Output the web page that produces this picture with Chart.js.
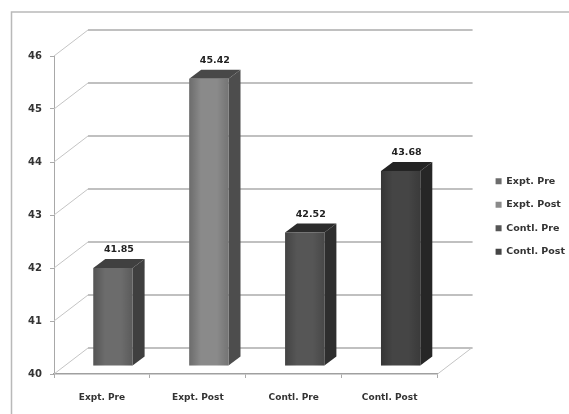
<!DOCTYPE html>
<html>
<head>
<meta charset="utf-8">
<title>Expt. and Contl. scores</title>
<script src="https://cdn.jsdelivr.net/npm/chart.js@4/dist/chart.umd.min.js"></script>
<style>
  html, body { margin: 0; padding: 0; background: #fff; }
  #wrap { width: 569px; height: 414px; }
</style>
</head>
<body>
<div id="wrap"><canvas id="scoresChart"></canvas></div>
<script>
const categories = ['Expt. Pre', 'Expt. Post', 'Contl. Pre', 'Contl. Post'];
const scores = [41.85, 45.42, 42.52, 43.68];
const frontColors = ['#6c6c6c', '#8a8a8a', '#565656', '#454545'];
const sideColors = ['#3f3f3f', '#4d4d4d', '#2e2e2e', '#262626'];
const topColors = ['#404040', '#484848', '#2c2c2c', '#242424'];

const FONT = '"DejaVu Sans", sans-serif';
const GRID = '#ababab';
// depth of the box the chart stands in, and of each bar
const WALL_DX = 34, WALL_DY = 26;
const BAR_DX = 12, BAR_DY = 9;
const BAR_SHIFT_X = 11, BAR_SHIFT_Y = 8;

function line(ctx, pts, color, width) {
    ctx.beginPath();
    ctx.moveTo(pts[0][0], pts[0][1]);
    pts.slice(1).forEach(p => ctx.lineTo(p[0], p[1]));
    ctx.strokeStyle = color;
    ctx.lineWidth = width;
    ctx.stroke();
}

function fillPoly(ctx, pts, color) {
    ctx.beginPath();
    ctx.moveTo(pts[0][0], pts[0][1]);
    pts.slice(1).forEach(p => ctx.lineTo(p[0], p[1]));
    ctx.closePath();
    ctx.fillStyle = color;
    ctx.fill();
}

const box3d = {
    id: 'box3d',
    beforeDraw(chart) {
        // outer frame, only its top and left sides show
        const ctx = chart.ctx;
        ctx.save();
        line(ctx, [[11.5, chart.height], [11.5, 12], [chart.width, 12]], '#b9b9b9', 1.5);
        ctx.restore();
    },
    beforeDatasetsDraw(chart) {
        const ctx = chart.ctx;
        const { left, right, bottom } = chart.chartArea;
        const yScale = chart.scales.y;
        ctx.save();

        // back wall lines, one per tick
        yScale.ticks.forEach(t => {
            const y = yScale.getPixelForValue(t.value);
            line(ctx, [[left, y], [left + WALL_DX, y - WALL_DY]], '#c4c4c4', 1);
            line(ctx, [[left + WALL_DX, y - WALL_DY], [right + WALL_DX + 1, y - WALL_DY]], GRID, 1.5);
        });
        line(ctx, [[right, bottom], [right + WALL_DX, bottom - WALL_DY]], '#c4c4c4', 1);

        // bars stand a little behind the axis plane
        ctx.translate(BAR_SHIFT_X, BAR_SHIFT_Y * -1);
        chart.getDatasetMeta(0).data.forEach((bar, i) => {
            const x1 = bar.x - bar.width / 2;
            const x2 = bar.x + bar.width / 2;
            fillPoly(ctx, [[x2, bar.y], [x2 + BAR_DX, bar.y - BAR_DY], [x2 + BAR_DX, bar.base - BAR_DY], [x2, bar.base]], sideColors[i]);
            fillPoly(ctx, [[x1, bar.y], [x1 + BAR_DX, bar.y - BAR_DY], [x2 + BAR_DX, bar.y - BAR_DY], [x2, bar.y]], topColors[i]);
        });
    },
    afterDatasetsDraw(chart) {
        const ctx = chart.ctx;
        chart.getDatasetMeta(0).data.forEach((bar, i) => {
            // front faces darken towards their edges
            const x1 = bar.x - bar.width / 2;
            const shade = ctx.createLinearGradient(x1, 0, x1 + bar.width, 0);
            shade.addColorStop(0, 'rgba(0,0,0,0.22)');
            shade.addColorStop(0.3, 'rgba(0,0,0,0)');
            shade.addColorStop(0.7, 'rgba(0,0,0,0)');
            shade.addColorStop(1, 'rgba(0,0,0,0.16)');
            ctx.fillStyle = shade;
            ctx.fillRect(x1, bar.y, bar.width, bar.base - bar.y);

            // value label above the bar
            ctx.fillStyle = '#222';
            ctx.font = 'bold 9.5px ' + FONT;
            ctx.textAlign = 'center';
            ctx.textBaseline = 'middle';
            ctx.fillText(scores[i].toFixed(2), bar.x + BAR_DX / 2, bar.y - BAR_DY - 9);
        });
        ctx.restore();
    }
};

new Chart(document.getElementById('scoresChart'), {
    type: 'bar',
    data: {
        labels: categories,
        datasets: [{
            data: scores,
            base: 40,
            backgroundColor: frontColors,
            barPercentage: 1,
            categoryPercentage: 0.41,
            clip: false
        }]
    },
    options: {
        responsive: true,
        maintainAspectRatio: false,
        animation: false,
        layout: { padding: { top: 19, right: -6, bottom: 0, left: 0 } },
        scales: {
            x: {
                grid: { drawOnChartArea: false, color: GRID, tickLength: 4 },
                border: { color: '#a0a0a0', width: 1.5 },
                ticks: { color: '#333', font: { family: FONT, size: 9, weight: 'bold' }, padding: 14, maxRotation: 0 },
                afterFit: s => { s.height = 40; }
            },
            y: {
                min: 40,
                max: 46,
                grid: { drawOnChartArea: false, color: GRID, tickLength: 4 },
                border: { color: '#a8a8a8', width: 1 },
                ticks: { stepSize: 1, color: '#333', font: { family: FONT, size: 10, weight: 'bold' }, padding: 8 },
                afterFit: s => { s.width = 54; }
            },
            // empty axes, they keep the gaps between the box and the legend
            gapRight: {
                type: 'linear',
                position: 'right',
                grid: { display: false },
                border: { display: false },
                ticks: { display: false },
                afterFit: s => { s.width = 44; }
            },
            gapTop: {
                type: 'linear',
                position: 'top',
                grid: { display: false },
                border: { display: false },
                ticks: { display: false },
                afterFit: s => { s.height = 37; }
            }
        },
        plugins: {
            legend: {
                position: 'right',
                labels: {
                    color: '#333',
                    font: { family: FONT, size: 9.5, weight: 'bold' },
                    boxWidth: 6,
                    boxHeight: 6,
                    padding: 14,
                    generateLabels: chart => categories.map((c, i) => ({
                        text: c,
                        fillStyle: frontColors[i],
                        strokeStyle: frontColors[i],
                        lineWidth: 0,
                        fontColor: '#333',
                        index: i
                    }))
                }
            },
            tooltip: { enabled: false }
        }
    },
    plugins: [box3d]
});
</script>
</body>
</html>
